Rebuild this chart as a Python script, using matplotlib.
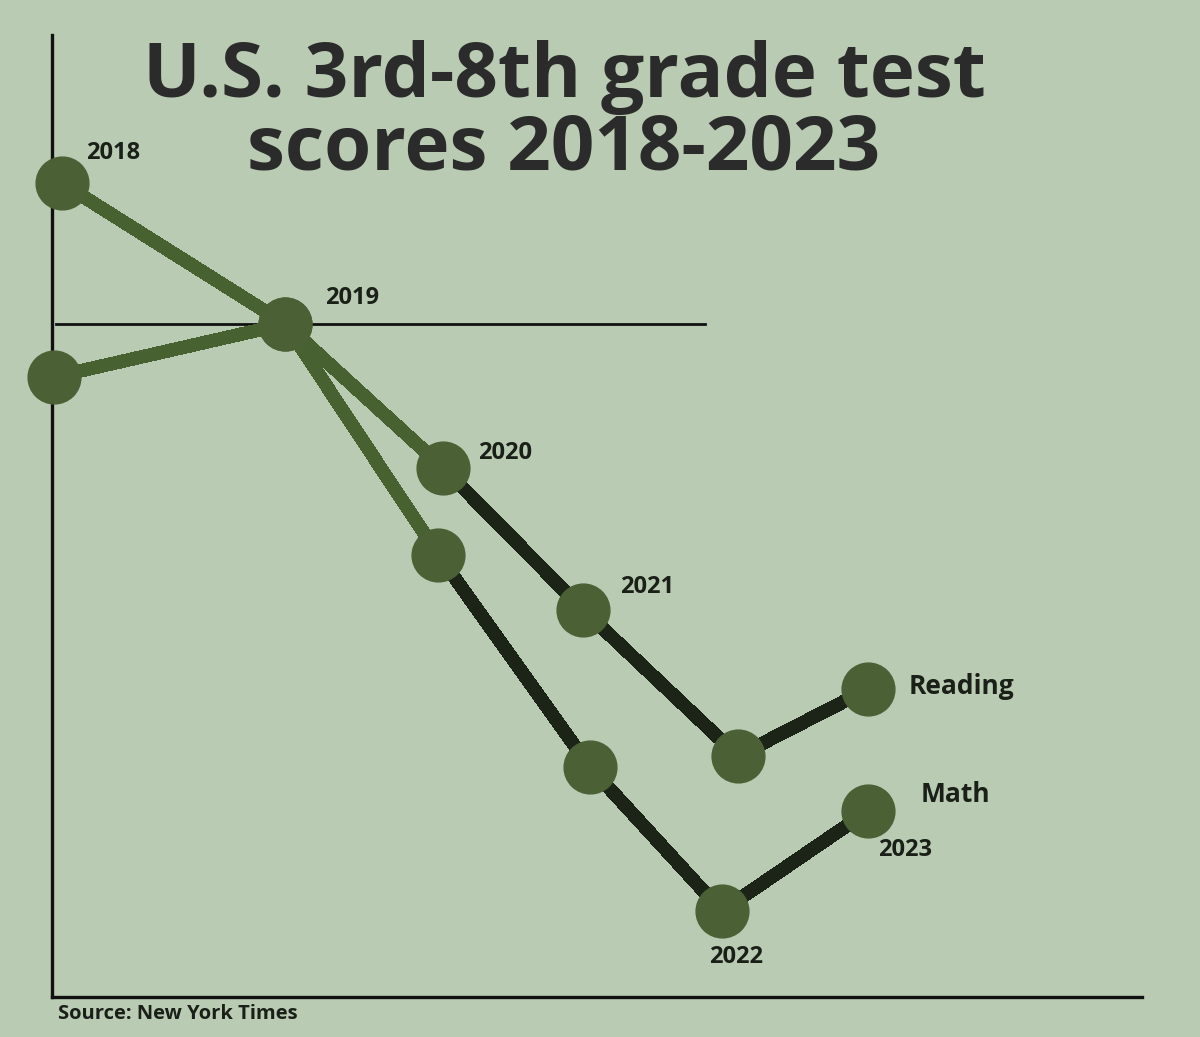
import matplotlib
matplotlib.use("Agg")
import matplotlib.pyplot as plt

# values (no y scale shown, so y is a relative score index)
years = [2018, 2019, 2020, 2021, 2022, 2023]
reading_x = [2018.01, 2019.40, 2020.38, 2021.25, 2022.21, 2023.02]
reading = [81.7, 67.6, 53.2, 39.0, 24.4, 31.1]
math_x = [2017.96, 2019.40, 2020.35, 2021.29, 2022.11, 2023.02]
math = [62.3, 67.6, 44.5, 23.3, 8.9, 18.9]
title_lines = ["U.S. 3rd-8th grade test", "scores 2018-2023"]
source = "Source: New York Times"

bg = "#b9cbb2"
olive = "#476131"
dark = "#1c2418"
dot = "#4b6035"
ink = "#1a1f18"

plt.rcParams['font.family'] = ['Open Sans', 'DejaVu Sans']

fig = plt.figure(figsize=(12, 10.37), dpi=100, facecolor=bg)
ax = fig.add_axes([52 / 1200, 40 / 1037, 1090 / 1200, 962 / 1037])
ax.set_facecolor(bg)
ax.set_xlim(2017.95, 2024.72)
ax.set_ylim(0.3, 96.5)
for s in ['top', 'right']:
    ax.spines[s].set_visible(False)
for s in ['left', 'bottom']:
    ax.spines[s].set_linewidth(2.4)
    ax.spines[s].set_color("#111111")
ax.set_xticks([])
ax.set_yticks([])

# 2019 reference line
ax.axhline(reading[1], xmin=0.004, xmax=0.599, color="#111111", lw=2.0, zorder=1)

def draw_series(xs, ys):
    # pre-2020 segments in olive, later ones dark
    for i in range(len(xs) - 1):
        c = olive if i < 2 else dark
        ax.plot(xs[i:i + 2], ys[i:i + 2], color=c, lw=9, solid_capstyle='butt',
                antialiased=False, zorder=2, clip_on=False)
    ax.plot(xs, ys, ls='none', marker='o', ms=38, color=dot, zorder=3, clip_on=False)

draw_series(reading_x, reading)
draw_series(math_x, math)

lab = dict(fontsize=17, fontweight='bold', color=ink, textcoords='offset pixels')
ax.annotate(str(years[0]), (reading_x[0], reading[0]), xytext=(24, 30), ha='left', va='center', **lab)
ax.annotate(str(years[1]), (reading_x[1], reading[1]), xytext=(40, 26), ha='left', va='center', **lab)
ax.annotate(str(years[2]), (reading_x[2], reading[2]), xytext=(35, 15), ha='left', va='center', **lab)
ax.annotate(str(years[3]), (reading_x[3], reading[3]), xytext=(37, 23), ha='left', va='center', **lab)
ax.annotate(str(years[4]), (math_x[4], math[4]), xytext=(14, -46), ha='center', va='center', **lab)
ax.annotate(str(years[5]), (math_x[5], math[5]), xytext=(37, -39), ha='center', va='center', **lab)

big = dict(fontsize=19, fontweight='bold', color=ink, textcoords='offset pixels')
ax.annotate("Reading", (reading_x[5], reading[5]), xytext=(40, 3), ha='left', va='center', **big)
ax.annotate("Math", (math_x[5], math[5]), xytext=(52, 17), ha='left', va='center', **big)

fig.text(0.47, (1037 - 97) / 1037, title_lines[0], ha='center', va='baseline',
         fontsize=55, fontweight='bold', color="#2b2b2b")
fig.text(0.47, (1037 - 170) / 1037, title_lines[1], ha='center', va='baseline',
         fontsize=55, fontweight='bold', color="#2b2b2b")

fig.text(58 / 1200, 18 / 1037, source, ha='left', va='baseline',
         fontsize=14.5, fontweight='bold', color=ink)

fig.savefig("out.png", dpi=100, facecolor=bg)
